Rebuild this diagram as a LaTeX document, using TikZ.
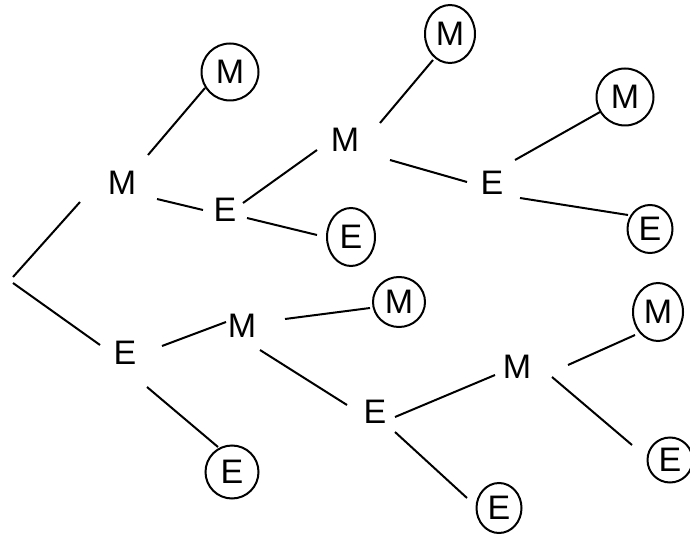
\documentclass[tikz,border=0pt]{standalone}
\usepackage{fontspec}
\setmainfont{Liberation Sans}
\usetikzlibrary{calc,shapes.geometric}
\begin{document}
\begin{tikzpicture}[x=1pt,y=-1pt,
  lbl/.style={inner sep=0pt,font=\fontsize{34}{40}\selectfont},
  ring/.style={lbl,ellipse,draw,line width=2pt},
  link/.style={line width=2pt}]
\useasboundingbox (0,0) rectangle (690,537);
\coordinate (root) at (12,280);
\node[lbl] (m1) at (122,183) {M};
\node[lbl] (e1) at (125,353) {E};
\node[ring,minimum width=57pt,minimum height=57pt] (cma) at (230,72) {M};
\node[lbl] (e2) at (225,210) {E};
\node[lbl] (m2) at (345,140) {M};
\node[ring,minimum width=48pt,minimum height=58pt] (cea) at (351,237) {E};
\node[ring,minimum width=50pt,minimum height=58pt] (cmb) at (450,34) {M};
\node[lbl] (e3) at (492,183) {E};
\node[ring,minimum width=57pt,minimum height=57pt] (cmc) at (625,97) {M};
\node[ring,minimum width=45pt,minimum height=48pt] (ceb) at (650,229) {E};
\node[lbl] (m3) at (242,326) {M};
\node[ring,minimum width=52pt,minimum height=50pt] (cmd) at (399,302) {M};
\node[lbl] (e4) at (375,412) {E};
\node[ring,minimum width=53pt,minimum height=53pt] (cec) at (232,472) {E};
\node[lbl] (m4) at (517,367) {M};
\node[ring,minimum width=50pt,minimum height=58pt] (cme) at (658,312) {M};
\node[ring,minimum width=45pt,minimum height=45pt] (ced) at (670,460) {E};
\node[ring,minimum width=45pt,minimum height=50pt] (cee) at (499,508) {E};
\draw[link] ($(root)+(1,-3)$) -- ($(m1)+(-42,19)$);
\draw[link] ($(root)+(1,3)$) -- ($(e1)+(-25,-8)$);
\draw[link] ($(m1)+(26,-28)$) -- ($(cma)+(-25,16)$);
\draw[link] ($(m1)+(35,16)$) -- ($(e2)+(-22,0)$);
\draw[link] ($(e2)+(18,-7)$) -- ($(m2)+(-28,10)$);
\draw[link] ($(e2)+(22,8)$) -- ($(cea)+(-34,-2)$);
\draw[link] ($(m2)+(35,-17)$) -- ($(cmb)+(-17,26)$);
\draw[link] ($(m2)+(45,20)$) -- ($(e3)+(-25,-1)$);
\draw[link] ($(e3)+(23,-23)$) -- ($(cmc)+(-25,15)$);
\draw[link] ($(e3)+(28,15)$) -- ($(ceb)+(-22,-14)$);
\draw[link] ($(e1)+(37,-7)$) -- ($(m3)+(-16,-4)$);
\draw[link] ($(e1)+(22,34)$) -- ($(cec)+(-14,-25)$);
\draw[link] ($(m3)+(43,-7)$) -- ($(cmd)+(-29,6)$);
\draw[link] ($(m3)+(18,24)$) -- ($(e4)+(-28,-7)$);
\draw[link] ($(e4)+(20,5)$) -- ($(m4)+(-22,8)$);
\draw[link] ($(e4)+(20,20)$) -- ($(cee)+(-32,-10)$);
\draw[link] ($(m4)+(51,-2)$) -- ($(cme)+(-23,23)$);
\draw[link] ($(m4)+(35,10)$) -- ($(ced)+(-38,-15)$);
\end{tikzpicture}
\end{document}
